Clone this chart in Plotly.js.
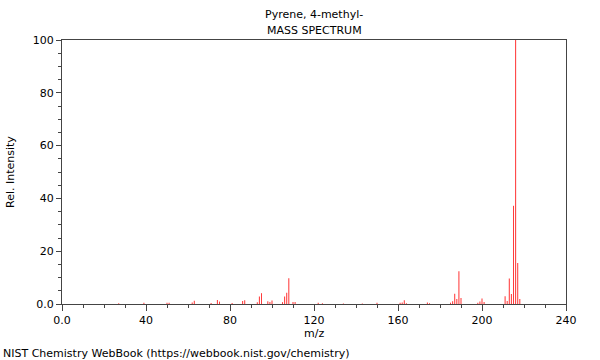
<!DOCTYPE html>
<html>
<head>
<meta charset="utf-8">
<script src="https://cdn.plot.ly/plotly-3.0.1.min.js"></script>
<style>
html,body{margin:0;padding:0;background:#fff;}
#chart{width:600px;height:360px;}
</style>
</head>
<body>
<div id="chart"></div>
<script>
var compoundName = "Pyrene, 4-methyl-";
var chartSubtitle = "MASS SPECTRUM";
var xAxisLabel = "m/z";
var yAxisLabel = "Rel. Intensity";
var footerText = "NIST Chemistry WebBook (https://webbook.nist.gov/chemistry)";

var mzValues = [27, 39, 50, 51, 62, 63, 71, 74, 75, 81, 86, 87, 93, 94, 95, 98, 99, 100,
  105, 106, 107, 108, 110, 111, 122, 124, 134, 143, 150, 161, 162, 163, 164, 174, 175,
  185, 186, 187, 188, 189, 190, 198, 199, 200, 201, 211, 212, 213, 214, 215, 216, 217, 218];
var relIntensity = [0.3, 0.5, 0.5, 0.5, 0.6, 1.2, 0.4, 1.5, 0.9, 0.4, 1.1, 1.4, 0.7, 2.8, 4.1, 1.0, 0.8, 1.3,
  0.7, 2.8, 4.3, 9.8, 0.8, 0.8, 0.5, 0.3, 0.2, 0.2, 0.5, 0.5, 0.6, 1.4, 0.3, 0.6, 0.3,
  0.5, 1.0, 3.9, 1.9, 12.4, 2.3, 0.5, 0.9, 2.1, 0.8, 2.9, 1.1, 9.7, 3.8, 37.2, 100, 15.5, 1.9];

var xTickVals = [0, 40, 80, 120, 160, 200, 240];
var xTickText = ["0.0", "40", "80", "120", "160", "200", "240"];
var yTickVals = [0, 20, 40, 60, 80, 100];
var yTickText = ["0.0", "20", "40", "60", "80", "100"];

var axisColor = "#444";
var fontFam = "DejaVu Sans, sans-serif";

var trace = {
  type: "bar",
  x: mzValues,
  y: relIntensity,
  width: 0.5,
  marker: {color: "rgb(255,60,60)", line: {width: 0}},
  hoverinfo: "x+y"
};

var layout = {
  width: 600, height: 360,
  margin: {l: 62, r: 34, t: 40, b: 56, pad: 0},
  paper_bgcolor: "#fff", plot_bgcolor: "#fff",
  font: {family: fontFam, size: 11, color: "#000"},
  showlegend: false,
  xaxis: {
    range: [0, 240], showgrid: false, zeroline: false,
    showline: true, mirror: true, linecolor: axisColor, linewidth: 1,
    ticks: "outside", ticklen: 6, tickcolor: axisColor, tickwidth: 1,
    tickvals: xTickVals, ticktext: xTickText,
    tickfont: {family: fontFam, size: 11, color: "#000"},
    minor: {dtick: 10, tick0: 0, ticks: "outside", ticklen: 3, tickcolor: axisColor, showgrid: false}
  },
  yaxis: {
    range: [0, 100], showgrid: false, zeroline: false,
    showline: true, mirror: true, linecolor: axisColor, linewidth: 1,
    ticks: "outside", ticklen: 5, tickcolor: axisColor, tickwidth: 1,
    tickvals: yTickVals, ticktext: yTickText,
    tickfont: {family: fontFam, size: 11, color: "#000"},
    minor: {dtick: 5, tick0: 0, ticks: "outside", ticklen: 3, tickcolor: axisColor, showgrid: false}
  },
  annotations: [
    {text: compoundName, xref: "paper", yref: "paper", x: 0.5, y: 1 + 26/264, xanchor: "center", yanchor: "middle", showarrow: false, font: {size: 11}},
    {text: chartSubtitle, xref: "paper", yref: "paper", x: 0.5, y: 1 + 10/264, xanchor: "center", yanchor: "middle", showarrow: false, font: {size: 11}},
    {text: xAxisLabel, xref: "paper", yref: "paper", x: 0.5, y: -29/264, xanchor: "center", yanchor: "middle", showarrow: false, font: {size: 11}},
    {text: yAxisLabel, xref: "paper", yref: "paper", x: -52/504, y: 0.5, xanchor: "center", yanchor: "middle", textangle: -90, showarrow: false, font: {size: 11}},
    {text: footerText, xref: "paper", yref: "paper", x: -61/504, y: -49/264, xanchor: "left", yanchor: "middle", showarrow: false, font: {size: 11}}
  ]
};

Plotly.newPlot("chart", [trace], layout, {staticPlot: true, displayModeBar: false});
</script>
</body>
</html>
